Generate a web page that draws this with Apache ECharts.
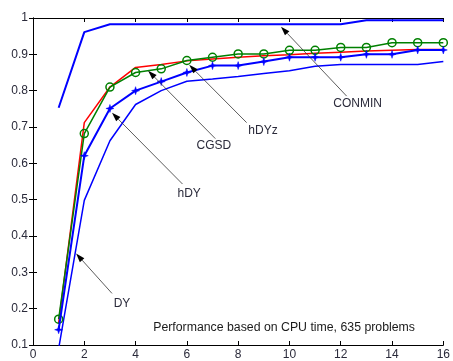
<!DOCTYPE html>
<html><head><meta charset="utf-8">
<script src="https://cdn.jsdelivr.net/npm/echarts@6/dist/echarts.min.js"></script>
<style>html,body{margin:0;padding:0;background:#fff}#c{width:453px;height:361px}</style>
</head><body><div id="c"></div>
<script>
const xValues = [1,2,3,4,5,6,7,8,9,10,11,12,13,14,15,16];
const conmin = [0.753,0.961,0.983,0.983,0.983,0.983,0.983,0.983,0.983,0.983,0.983,0.983,0.994,0.994,0.994,0.994];
const dy     = [0.09,0.498,0.662,0.762,0.800,0.826,0.832,0.839,0.847,0.855,0.867,0.872,0.872,0.872,0.872,0.880];
const cgsd   = [0.16,0.712,0.810,0.864,0.872,0.882,0.887,0.892,0.896,0.899,0.903,0.906,0.909,0.911,0.913,0.913];
const hdyz   = [0.171,0.682,0.810,0.850,0.860,0.883,0.892,0.901,0.901,0.911,0.911,0.919,0.919,0.932,0.932,0.932];
const hdy    = [0.142,0.621,0.751,0.800,0.825,0.850,0.869,0.869,0.880,0.892,0.892,0.892,0.900,0.900,0.912,0.912];
const xTicks = [0,2,4,6,8,10,12,14,16];
const yTicks = [0.1,0.2,0.3,0.4,0.5,0.6,0.7,0.8,0.9,1];
const noteText = 'Performance based on CPU time, 635 problems';
const annotations = [
  {text:'CONMIN', tip:[9.67,0.976], tail:[12.23,0.785], label:[12.66,0.764]},
  {text:'hDYz', tip:[6.09,0.871], tail:[8.33,0.712], label:[8.97,0.689]},
  {text:'CGSD', tip:[4.49,0.855], tail:[7.11,0.668], label:[7.05,0.648]},
  {text:'hDY', tip:[3.08,0.739], tail:[5.83,0.543], label:[6.09,0.516]},
  {text:'DY', tip:[1.68,0.352], tail:[3.08,0.242], label:[3.47,0.215]}
];
const notePos = [9.79,0.147];

const font = '"Liberation Sans", Arial, sans-serif';
const chart = echarts.init(document.getElementById('c'), null, {renderer:'canvas'});
const pair = a => xValues.map((x,i)=>[x,a[i]]);
const starPath = 'path://M0,-5 L1.2,-1.2 L5,0 L1.2,1.2 L0,5 L-1.2,1.2 L-5,0 L-1.2,-1.2 Z';
const axisCommon = {
  axisLine:{lineStyle:{color:'#000',width:1}},
  axisTick:{inside:true,length:4,lineStyle:{color:'#000'}},
  splitLine:{show:false}
};
chart.setOption({
  animation:false,
  backgroundColor:'#fff',
  grid:{left:33,top:18,right:3,bottom:14,containLabel:false},
  xAxis:[
    Object.assign({type:'value',min:0,max:16,interval:2,position:'bottom',
      axisLabel:{color:'#2a2a3a',fontSize:12,fontFamily:font,margin:4,
        formatter:v=>xTicks.includes(v)?String(v):''}},axisCommon),
    Object.assign({type:'value',min:0,max:16,interval:2,position:'top',axisLabel:{show:false}},axisCommon)
  ],
  yAxis:[
    Object.assign({type:'value',min:0.1,max:1,interval:0.1,position:'left',
      axisLabel:{color:'#2a2a3a',fontSize:12,fontFamily:font,margin:5,
        formatter:v=>{const t=yTicks.find(k=>Math.abs(k-v)<1e-6);return t===undefined?'':(t===1?'1':t.toFixed(1));}}},axisCommon),
    Object.assign({type:'value',min:0.1,max:1,interval:0.1,position:'right',axisLabel:{show:false}},axisCommon)
  ],
  series:[
    {name:'CONMIN',type:'line',data:pair(conmin),showSymbol:false,symbol:'none',lineStyle:{color:'#0000ff',width:2},z:2},
    {name:'DY',type:'line',data:pair(dy),symbol:'none',lineStyle:{color:'#0000ff',width:1.5},z:2},
    {name:'CGSD',type:'line',data:pair(cgsd),symbol:'none',lineStyle:{color:'#ff0000',width:1.5},z:3},
    {name:'hDYz',type:'line',data:pair(hdyz),symbol:'circle',symbolSize:8,
      itemStyle:{color:'rgba(0,0,0,0)',borderColor:'#008000',borderWidth:1.5},
      lineStyle:{color:'#008000',width:1.5},z:4},
    {name:'hDY',type:'line',data:pair(hdy),symbol:starPath,symbolSize:8,
      itemStyle:{color:'#0000ff',borderColor:'#0000ff',borderWidth:0.5},
      lineStyle:{color:'#0000ff',width:2},z:5}
  ]
});

function drawAnnotations(){
  const els = [];
  const P = c => chart.convertToPixel({xAxisIndex:0,yAxisIndex:0}, c);
  annotations.forEach(a=>{
    const t = P(a.tip), s = P(a.tail), l = P(a.label);
    const ang = Math.atan2(t[1]-s[1], t[0]-s[0]);
    const L = 9, W = 3;
    const bx = t[0]-L*Math.cos(ang), by = t[1]-L*Math.sin(ang);
    const px = -Math.sin(ang)*W, py = Math.cos(ang)*W;
    els.push({type:'line',shape:{x1:s[0],y1:s[1],x2:bx,y2:by},style:{stroke:'#333',lineWidth:0.8},z:10});
    els.push({type:'polygon',shape:{points:[[t[0],t[1]],[bx+px,by+py],[bx-px,by-py]]},style:{fill:'#000'},z:10});
    els.push({type:'text',x:l[0],y:l[1],style:{text:a.text,font:'12px '+font,fill:'#2a2a3a',align:'center',verticalAlign:'middle'},z:10});
  });
  const n = P(notePos);
  els.push({type:'text',x:n[0],y:n[1],style:{text:noteText,font:'12.3px '+font,fill:'#1a1a1a',align:'center',verticalAlign:'middle'},z:10});
  chart.setOption({graphic:els});
}
drawAnnotations();
</script></body></html>
